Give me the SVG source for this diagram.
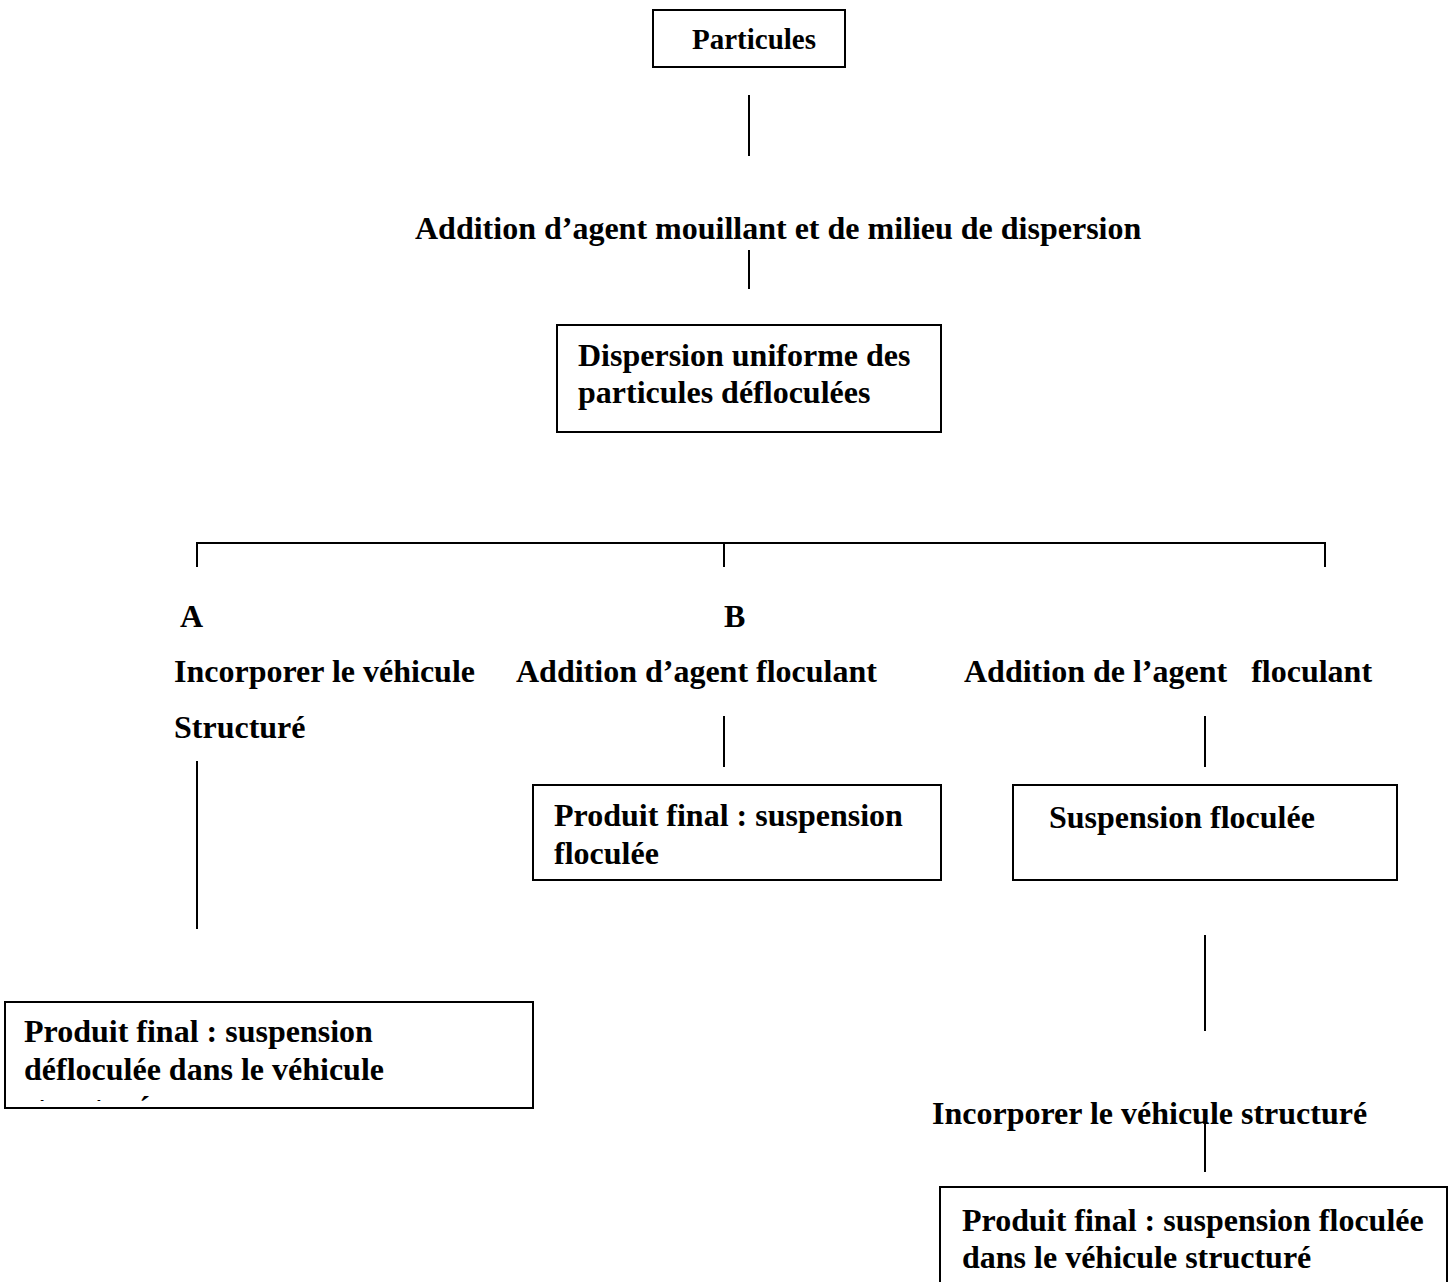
<svg xmlns="http://www.w3.org/2000/svg" width="1451" height="1282" viewBox="0 0 1451 1282">
<style>
text{font-family:"Liberation Serif","Times New Roman",serif;font-weight:bold;font-size:32px;fill:#000}
.box{fill:#fff;stroke:#000;stroke-width:2}
.ln{stroke:#000;stroke-width:2;fill:none}
.small{font-size:29px}
</style>
<defs>
<clipPath id="clipBL"><rect x="6" y="1003" width="526" height="98"/></clipPath>
</defs>
<rect width="1451" height="1282" fill="#fff"/>
<g id="connectors">
<line class="ln" x1="749" y1="95" x2="749" y2="156"/>
<line class="ln" x1="749" y1="250" x2="749" y2="289"/>
<polyline class="ln" points="197,567 197,543 1325,543 1325,567"/>
<line class="ln" x1="724" y1="543" x2="724" y2="567"/>
<line class="ln" x1="197" y1="761" x2="197" y2="929"/>
<line class="ln" x1="724" y1="716" x2="724" y2="767"/>
<line class="ln" x1="1205" y1="716" x2="1205" y2="767"/>
<line class="ln" x1="1205" y1="935" x2="1205" y2="1031"/>
<line class="ln" x1="1205" y1="1123" x2="1205" y2="1172"/>
</g>
<g id="n-particules">
<rect class="box" x="653" y="10" width="192" height="57"/>
<text class="small" x="692" y="49">Particules</text>
</g>
<g id="n-addition-mouillant">
<text x="415" y="239">Addition d’agent mouillant et de milieu de dispersion</text>
</g>
<g id="n-dispersion">
<rect class="box" x="557" y="325" width="384" height="107"/>
<text x="578" y="366">Dispersion uniforme des</text>
<text x="578" y="403">particules défloculées</text>
</g>
<g id="n-A"><text x="180" y="627">A</text></g>
<g id="n-B"><text x="724" y="627">B</text></g>
<g id="n-incorporer-A">
<text x="174" y="682">Incorporer le véhicule</text>
<text x="174" y="738">Structuré</text>
</g>
<g id="n-addition-B">
<text x="516" y="682">Addition d’agent floculant</text>
</g>
<g id="n-addition-C">
<text x="964" y="682" xml:space="preserve">Addition de l’agent   floculant</text>
</g>
<g id="n-produit-B">
<rect class="box" x="533" y="785" width="408" height="95"/>
<text x="554" y="826">Produit final : suspension</text>
<text x="554" y="864">floculée</text>
</g>
<g id="n-suspension-C">
<rect class="box" x="1013" y="785" width="384" height="95"/>
<text x="1049" y="828">Suspension floculée</text>
</g>
<g id="n-produit-A">
<rect class="box" x="5" y="1002" width="528" height="106"/>
<g clip-path="url(#clipBL)">
<text x="24" y="1042">Produit final : suspension</text>
<text x="24" y="1080">défloculée dans le véhicule</text>
<text x="24" y="1118">structuré</text>
</g>
</g>
<g id="n-incorporer-C">
<text x="932" y="1124">Incorporer le véhicule structuré</text>
</g>
<g id="n-produit-C">
<rect class="box" x="940" y="1187" width="507" height="110"/>
<text x="962" y="1231">Produit final : suspension floculée</text>
<text x="962" y="1268">dans le véhicule structuré</text>
</g>
</svg>
